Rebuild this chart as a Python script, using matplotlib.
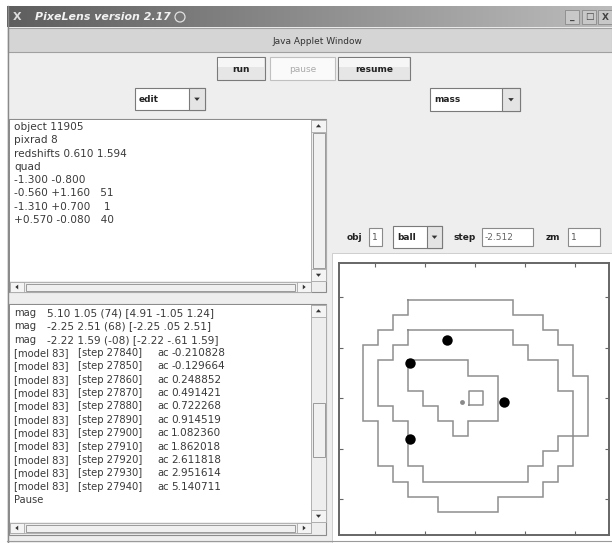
import matplotlib
matplotlib.use("Agg")
import matplotlib.pyplot as plt
from matplotlib.patches import Rectangle, Polygon
import numpy as np

# ---------------- data ----------------
window_title = "PixeLens version 2.17"
applet_caption = "Java Applet Window"
buttons = ["run", "pause", "resume"]
left_menu = "edit"
right_menu = "mass"

object_name = "11905"
pixrad = 8
redshifts = [0.610, 1.594]
img_x = [-1.300, -0.560, -1.310, 0.570]
img_y = [-0.800, 1.160, 0.700, -0.080]
img_delay = [None, 51, 1, 40]

mag_vals = ["5.10 1.05 (74) [4.91 -1.05 1.24]",
            "-2.25 2.51 (68) [-2.25 .05 2.51]",
            "-2.22 1.59 (-08) [-2.22 -.61 1.59]"]
model_no = 83
steps = [27840, 27850, 27860, 27870, 27880, 27890, 27900, 27910, 27920, 27930, 27940]
ac_vals = [-0.210828, -0.129664, 0.248852, 0.491421, 0.722268, 0.914519,
           1.082360, 1.862018, 2.611818, 2.951614, 5.140711]
status = "Pause"

obj_val = "1"
show_menu = "ball"
step_val = "-2.512"
zm_val = "1"

# contours (map coordinates, arcsec)
outer_x = [-1.35, 0.75, 0.75, 1.35, 1.35, 1.65, 1.65, 1.95, 1.95, 2.25, 2.25, 1.95,
           1.95, 1.65, 1.65, 1.35, 1.35, 0.45, 0.45, -0.75, -0.75, -1.35, -1.35,
           -1.65, -1.65, -1.95, -1.95, -2.25, -2.25, -1.95, -1.95, -1.65, -1.65,
           -1.35, -1.35]
outer_y = [1.95, 1.95, 1.65, 1.65, 1.35, 1.35, 1.05, 1.05, 0.45, 0.45, -0.75, -0.75,
           -1.35, -1.35, -1.65, -1.65, -1.95, -1.95, -2.25, -2.25, -1.95, -1.95,
           -1.65, -1.65, -1.35, -1.35, -0.45, -0.45, 1.05, 1.05, 1.35, 1.35, 1.65,
           1.65, 1.95]
middle_x = [-1.35, 0.75, 0.75, 1.05, 1.05, 1.65, 1.65, 1.95, 1.95, 1.65, 1.65, 1.35,
            1.35, 1.05, 1.05, -1.05, -1.05, -1.35, -1.35, -1.65, -1.65, -1.95, -1.95,
            -1.65, -1.65, -1.35, -1.35]
middle_y = [1.35, 1.35, 1.05, 1.05, 0.75, 0.75, 0.15, 0.15, -0.75, -0.75, -1.05, -1.05,
            -1.35, -1.35, -1.65, -1.65, -1.35, -1.35, -0.45, -0.45, -0.15, -0.15, 0.75,
            0.75, 1.05, 1.05, 1.35]
inner_x = [-1.35, -0.15, -0.15, 0.45, 0.45, -0.15, -0.15, -0.45, -0.45, -0.75, -0.75,
           -1.05, -1.05, -1.35, -1.35]
inner_y = [0.75, 0.75, 0.45, 0.45, -0.45, -0.45, -0.75, -0.75, -0.45, -0.45, -0.15,
           -0.15, 0.15, 0.15, 0.75]
source_x = [-0.12, 0.15, 0.15, -0.12, -0.12]
source_y = [-0.13, -0.13, 0.14, 0.14, -0.13]
lens_x = [-0.26]
lens_y = [-0.07]
tick_vals = [-2, -1, 0, 1, 2]

# ---------------- figure ----------------
W, H = 612, 543
fig = plt.figure(figsize=(6.12, 5.43), dpi=100)
fig.patch.set_facecolor("white")
ui = fig.add_axes([0, 0, 1, 1])
ui.axis("off")

FONT = "DejaVu Sans"
TXT = "#3a3a3a"

def rect(x0, y0, x1, y1, fc="none", ec="none", lw=0.75, z=1):
    ui.add_patch(Rectangle((x0, y0), x1 - x0, y1 - y0, facecolor=fc,
                           edgecolor=ec, linewidth=lw, zorder=z))

def tri(cx, cy, d, s=3.0, z=3, c="#333333"):
    if d == "down":
        pts = [(cx - s, cy - s / 2), (cx + s, cy - s / 2), (cx, cy + s / 2 + 0.5)]
    elif d == "up":
        pts = [(cx - s, cy + s / 2), (cx + s, cy + s / 2), (cx, cy - s / 2 - 0.5)]
    elif d == "left":
        pts = [(cx + s / 2, cy - s), (cx + s / 2, cy + s), (cx - s / 2 - 0.5, cy)]
    else:
        pts = [(cx - s / 2, cy - s), (cx - s / 2, cy + s), (cx + s / 2 + 0.5, cy)]
    ui.add_patch(Polygon(pts, closed=True, facecolor=c, edgecolor="none", zorder=z))

def text(x, y, s, size=7.2, color=TXT, weight="normal", ha="left", style="normal", z=4):
    ui.text(x, y, s, fontsize=size, color=color, fontweight=weight, ha=ha,
            va="center", family=FONT, style=style, zorder=z)

# title bar gradient
grad = np.linspace(0, 1, 300)
c0 = np.array([0x5e, 0x5e, 0x5e]) / 255
c1 = np.array([0xbc, 0xbc, 0xbc]) / 255
img = (c0[None, None, :] * (1 - grad[None, :, None]) + c1[None, None, :] * grad[None, :, None])
img = np.repeat(img, 2, axis=0)
ui.imshow(img, extent=(7, 612, 27, 6), aspect="auto", interpolation="bilinear", zorder=1)
text(13, 17, "X", size=8, color="#dddddd", weight="bold")
text(35, 17, window_title, size=7.9, color="#f2f2f2", weight="bold", style="italic")
ui.add_patch(plt.Circle((180, 17), 5, facecolor="none", edgecolor="#e0e0e0", lw=0.9, zorder=3))
for bx, sym in [(565, "_"), (582, "□"), (598, "X")]:
    rect(bx, 10, bx + 14, 24, fc="#c8c8c8", ec="#8a8a8a", lw=0.6, z=2)
    text(bx + 7, 17, sym, size=6.5, color="#444444", weight="bold", ha="center")

# window body
rect(7, 27, 612, 543, fc="#eeeeee", ec="none", z=0.5)
ui.plot([7.5, 7.5], [6, 543], color="#8a8a8a", lw=1.0, zorder=2)

# applet caption bar
rect(8, 28, 612, 52, fc="#d5d5d5", ec="#a0a0a0", lw=0.8, z=1.5)
text(317, 41, applet_caption, size=6.5, color="#333333", ha="center")

# buttons
btn_boxes = [(217, 265), (270, 335), (338, 410)]
for (x0, x1), lab in zip(btn_boxes, buttons):
    disabled = lab == "pause"
    rect(x0, 57, x1, 80, fc="#fafafa" if disabled else "#e6e6e6",
         ec="#c0c0c0" if disabled else "#7a7a7a", lw=0.8, z=2)
    if not disabled:
        rect(x0 + 1, 58, x1 - 1, 67, fc="#f6f6f6", ec="none", z=2.1)
    text((x0 + x1) / 2, 69, lab, size=6.5, color="#aaaaaa" if disabled else "#222222",
         weight="normal" if disabled else "bold", ha="center")

# dropdowns
def dropdown(x0, x1, y0, y1, lab, arrow_w=16):
    rect(x0, y0, x1, y1, fc="white", ec="#7a7a7a", lw=0.8, z=2)
    rect(x1 - arrow_w, y0, x1, y1, fc="#e4e4e4", ec="#7a7a7a", lw=0.8, z=2.1)
    tri(x1 - arrow_w / 2, (y0 + y1) / 2, "down", s=2.8)
    text(x0 + 4, (y0 + y1) / 2 + 0.5, lab, size=6.5, color="#222222", weight="bold")

dropdown(135, 205, 88, 110, left_menu)
dropdown(430, 520, 88, 111, right_menu, arrow_w=18)

# scrollbars
def vscroll(x0, x1, y0, y1, t0, t1):
    rect(x0, y0, x1, y1, fc="#eeeeee", ec="#a8a8a8", lw=0.6, z=2)
    rect(x0, y0, x1, y0 + 12, fc="#f4f4f4", ec="#a8a8a8", lw=0.6, z=2.1)
    tri((x0 + x1) / 2, y0 + 6, "up", s=2.6)
    rect(x0, y1 - 12, x1, y1, fc="#f4f4f4", ec="#a8a8a8", lw=0.6, z=2.1)
    tri((x0 + x1) / 2, y1 - 6, "down", s=2.6)
    rect(x0 + 1.5, t0, x1 - 1.5, t1, fc="#f0f0f0", ec="#9a9a9a", lw=0.7, z=2.2)

def hscroll(x0, x1, y0, y1):
    rect(x0, y0, x1, y1, fc="#eeeeee", ec="#a8a8a8", lw=0.6, z=2)
    rect(x0, y0, x0 + 14, y1, fc="#f4f4f4", ec="#a8a8a8", lw=0.6, z=2.1)
    tri(x0 + 7, (y0 + y1) / 2, "left", s=2.4)
    rect(x1 - 14, y0, x1, y1, fc="#f4f4f4", ec="#a8a8a8", lw=0.6, z=2.1)
    tri(x1 - 7, (y0 + y1) / 2, "right", s=2.4)
    rect(x0 + 16, y0 + 1.5, x1 - 16, y1 - 1.5, fc="#f0f0f0", ec="#9a9a9a", lw=0.7, z=2.2)

TS = 7.6  # top text-area font size
BS = 7.2  # bottom text-area font size

# top text area
rect(9, 119, 326, 292, fc="#eeeeee", ec="#8c8c8c", lw=0.8, z=1.5)
rect(10, 120, 311, 281, fc="white", ec="none", z=1.6)
vscroll(311, 326, 120, 281, 133, 268)
hscroll(10, 311, 282, 292)

top_lines = ["object " + object_name, "pixrad %d" % pixrad,
             "redshifts %.3f %.3f" % tuple(redshifts), "quad"]
for x, y, d in zip(img_x, img_y, img_delay):
    s = "%+.3f %+.3f" % (x, y)
    if d is not None:
        s += "   %2d" % d
    top_lines.append(s)
for k, s in enumerate(top_lines):
    text(14, 127 + 13.3 * k, s, size=TS)

# bottom text area
rect(9, 304, 326, 535, fc="#eeeeee", ec="#8c8c8c", lw=0.8, z=1.5)
rect(10, 305, 311, 522, fc="white", ec="none", z=1.6)
vscroll(311, 326, 305, 522, 403, 457)
hscroll(10, 311, 523, 533)

row = 0
for mv in mag_vals:
    yy = 313 + 13.35 * row
    text(14, yy, "mag", size=BS)
    text(47, yy, mv, size=7.6)
    row += 1
for st, ac in zip(steps, ac_vals):
    yy = 313 + 13.35 * row
    text(14, yy, "[model %d]" % model_no, size=BS)
    text(78, yy, "[step %d]" % st, size=BS)
    text(157, yy, "ac", size=BS)
    text(171, yy, "%.6f" % ac, size=7.6)
    row += 1
text(14, 313 + 13.35 * row, status, size=BS)

ui.plot([7, 612], [540.5, 540.5], color="#9a9a9a", lw=0.8, zorder=2)

# right-hand controls
cy = 237
text(347, cy, "obj", size=6.5, color="#222222", weight="bold")
rect(369, 228, 382, 246, fc="white", ec="#8a8a8a", lw=0.8, z=2)
text(372, cy, obj_val, size=6.5, color="#555555")
dropdown(393, 442, 226, 248, show_menu, arrow_w=15)
text(453, cy, "step", size=6.5, color="#222222", weight="bold")
rect(482, 228, 533, 246, fc="white", ec="#8a8a8a", lw=0.8, z=2)
text(485, cy, step_val, size=6.5, color="#666666")
text(546, cy, "zm", size=6.5, color="#222222", weight="bold")
rect(568, 228, 600, 246, fc="white", ec="#8a8a8a", lw=0.8, z=2)
text(571, cy, zm_val, size=6.5, color="#555555")

# plot panel
rect(332, 253, 612, 543, fc="white", ec="#c8c8c8", lw=0.6, z=1.5)

ui.set_xlim(0, W)
ui.set_ylim(H, 0)

# ---------------- map plot ----------------
x0p, y0p, x1p, y1p = 339, 263, 609, 535
ax = fig.add_axes([x0p / W, 1 - y1p / H, (x1p - x0p) / W, (y1p - y0p) / H])
ax.set_facecolor("white")
cc = "#8e8e8e"
ax.plot(outer_x, outer_y, color=cc, lw=1.1, solid_joinstyle="miter")
ax.plot(middle_x, middle_y, color=cc, lw=1.1, solid_joinstyle="miter")
ax.plot(inner_x, inner_y, color=cc, lw=1.1, solid_joinstyle="miter")
ax.plot(source_x, source_y, color=cc, lw=1.1)
ax.plot(lens_x, lens_y, "o", color="#8a8a8a", ms=3.5, mec="none")
ax.plot(img_x, img_y, "o", color="black", ms=7.5, mec="none")
ax.set_xlim(-2.72, 2.68)
ax.set_ylim(-2.71, 2.68)
ax.set_xticks(tick_vals)
ax.set_yticks(tick_vals)
ax.tick_params(direction="in", length=3, width=0.8, color="#666666",
               top=True, right=True, labelbottom=False, labelleft=False)
for sp in ax.spines.values():
    sp.set_color("#666666")
    sp.set_linewidth(1.4)

fig.savefig("out.png", dpi=100, facecolor="white")
